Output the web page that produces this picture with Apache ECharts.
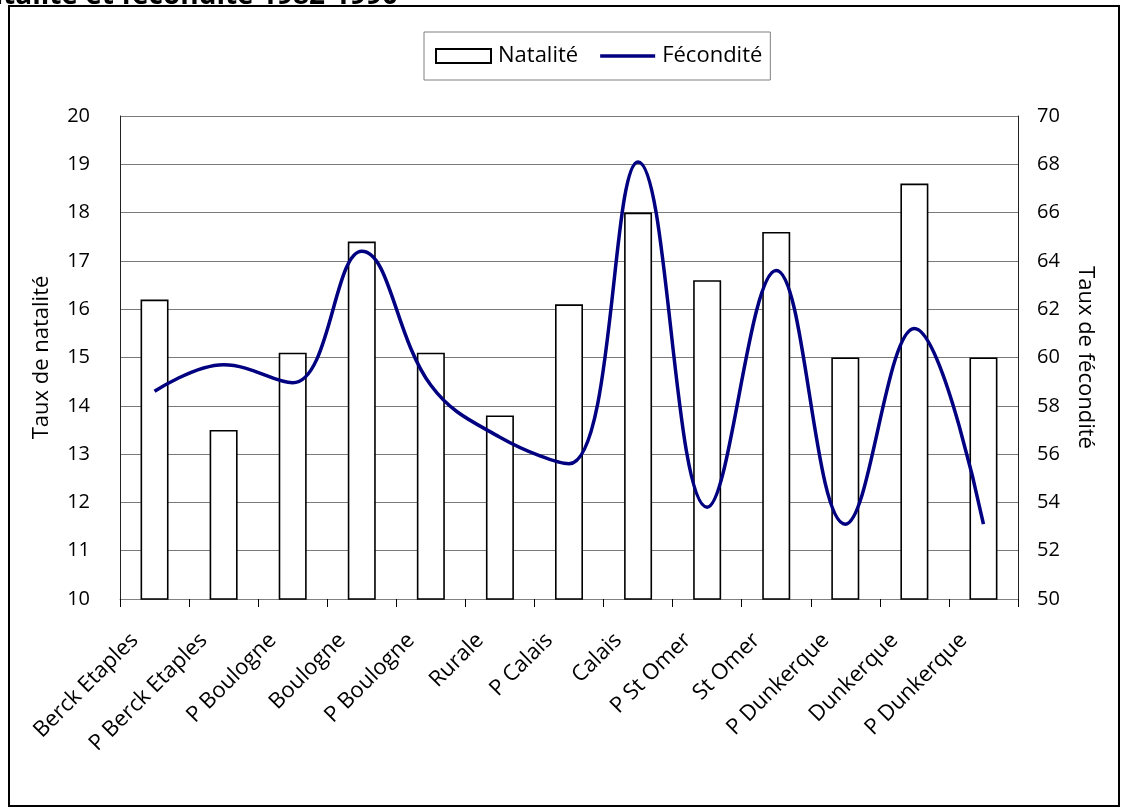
<!DOCTYPE html>
<html>
<head>
<meta charset="utf-8">
<script src="https://cdn.jsdelivr.net/npm/echarts@6/dist/echarts.min.js"></script>
<style>
  html, body { margin: 0; padding: 0; background: #fff; }
  #chart { width: 1121px; height: 808px; }
</style>
</head>
<body>
<div id="chart"></div>
<script>
// Communes / zones
const categories = ['Berck Etaples', 'P Berck Etaples', 'P Boulogne', 'Boulogne', 'P Boulogne', 'Rurale',
  'P Calais', 'Calais', 'P St Omer', 'St Omer', 'P Dunkerque', 'Dunkerque', 'P Dunkerque'];
// Taux de natalité (axe gauche)
const natalite = [16.2, 13.5, 15.1, 17.4, 15.1, 13.8, 16.1, 18.0, 16.6, 17.6, 15.0, 18.6, 15.0];
// Taux de fécondité (axe droit)
const fecondite = [58.6, 59.7, 58.95, 64.4, 58.85, 56.7, 55.6, 68.1, 53.8, 63.6, 53.1, 61.2, 53.1];

const FONT = '"Open Sans", Lato, sans-serif';
const chart = echarts.init(document.getElementById('chart'), null, { renderer: 'canvas' });

chart.setOption({
  animation: false,
  backgroundColor: '#fff',
  textStyle: { fontFamily: FONT, color: '#000' },
  graphic: [
    {
      type: 'text', x: 398, y: 10, z: 1,
      style: {
        text: 'Taux de natalité et fécondité 1982-1990',
        font: 'bold 28px ' + FONT, fill: '#000',
        align: 'right', verticalAlign: 'bottom'
      }
    },
    {
      type: 'rect', z: 100, silent: true,
      shape: { x: 9, y: 6, width: 1110, height: 800 },
      style: { fill: 'none', stroke: '#000', lineWidth: 2 }
    }
  ],
  legend: {
    left: 424, top: 32,
    padding: [13, 8, 13, 11],
    itemWidth: 55, itemHeight: 14, itemGap: 22,
    borderColor: '#808080', borderWidth: 1,
    textStyle: { fontFamily: FONT, fontSize: 22, color: '#000', padding: [0, 0, 0, 2] },
    data: [
      { name: 'Natalité', icon: 'rect' },
      { name: 'Fécondité', icon: 'path://M0,0H57V3.6H0Z' }
    ]
  },
  grid: { left: 120, right: 103, top: 116, bottom: 209, containLabel: false },
  xAxis: {
    type: 'category',
    data: categories,
    boundaryGap: true,
    axisLine: { lineStyle: { color: '#808080', width: 1 } },
    axisTick: { show: true, length: 8, lineStyle: { color: '#000' } },
    axisLabel: {
      interval: 0, rotate: 45, margin: 18,
      fontFamily: FONT, fontSize: 22, color: '#000',
      padding: [0, 28, 0, 0]
    }
  },
  yAxis: [
    {
      type: 'value', min: 10, max: 20, interval: 1,
      name: 'Taux de natalité', nameLocation: 'middle', nameGap: 67, nameRotate: 90,
      nameTextStyle: { fontFamily: FONT, fontSize: 22, color: '#000' },
      axisLine: { show: true, lineStyle: { color: '#222', width: 1 } },
      axisTick: { show: false },
      axisLabel: { margin: 30, fontFamily: FONT, fontSize: 20, color: '#000' },
      splitLine: { show: true, lineStyle: { color: '#7a7a7a', width: 1 } }
    },
    {
      type: 'value', min: 50, max: 70, interval: 2,
      name: 'Taux de fécondité', nameLocation: 'middle', nameGap: 56, nameRotate: -90,
      nameTextStyle: { fontFamily: FONT, fontSize: 22, color: '#000' },
      axisLine: { show: true, lineStyle: { color: '#222', width: 1 } },
      axisTick: { show: false },
      axisLabel: { margin: 19, fontFamily: FONT, fontSize: 20, color: '#000' },
      splitLine: { show: false }
    }
  ],
  series: [
    {
      name: 'Natalité', type: 'bar', yAxisIndex: 0,
      data: natalite, barWidth: 28,
      itemStyle: { color: '#fff', borderColor: '#000', borderWidth: 1.6 }
    },
    {
      name: 'Fécondité', type: 'line', yAxisIndex: 1,
      data: fecondite, smooth: 0.4, symbol: 'none',
      lineStyle: { color: '#000080', width: 3.5 },
      itemStyle: { color: '#000080' }
    }
  ]
});
</script>
</body>
</html>
